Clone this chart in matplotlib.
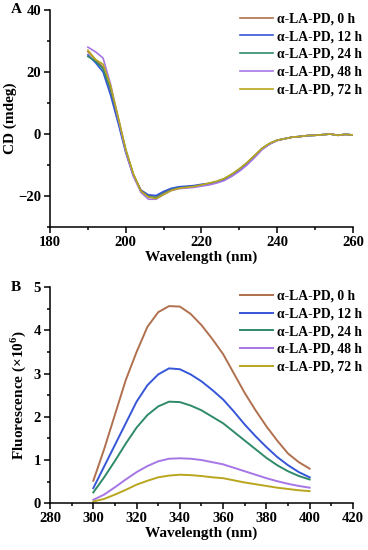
import numpy as np
import matplotlib
matplotlib.use('Agg')
import matplotlib.pyplot as plt
from matplotlib.ticker import AutoMinorLocator

plt.rcParams['font.family'] = ['Liberation Serif', 'DejaVu Serif']
plt.rcParams['font.weight'] = 'bold'
plt.rcParams['mathtext.fontset'] = 'custom'
plt.rcParams['mathtext.rm'] = 'Liberation Serif:bold'
plt.rcParams['mathtext.bf'] = 'Liberation Serif:bold'

labels = ['α-LA-PD, 0 h', 'α-LA-PD, 12 h', 'α-LA-PD, 24 h', 'α-LA-PD, 48 h', 'α-LA-PD, 72 h']
colors = ['#b0704e', '#3656d8', '#2f8a68', '#a676e6', '#b8a61e']

# CD spectra (panel A)
cd_wl = [190, 192, 194, 196, 198, 200, 202, 204, 206, 208, 210, 212, 214, 216, 218, 220,
         222, 224, 226, 228, 230, 232, 234, 236, 238, 240, 242, 244, 246, 248, 250, 252,
         254, 256, 258, 260]
cd_0h = [26.5, 24.0, 21.5, 14.0, 4.5, -5.5, -13.0, -18.0, -19.8, -20.0, -18.8, -17.8, -17.2, -17.0, -16.8, -16.4,
         -16.0, -15.5, -14.6, -13.2, -11.6, -9.6, -7.2, -4.8, -3.2, -2.0, -1.5, -1.0, -0.8, -0.5, -0.4, -0.2,
         0.0, -0.4, -0.1, -0.3]
cd_12h = [25.5, 23.0, 20.0, 12.5, 3.5, -6.0, -13.5, -18.2, -19.6, -19.8, -18.5, -17.5, -17.0, -16.8, -16.6, -16.2,
          -15.9, -15.4, -14.8, -13.5, -11.8, -9.8, -7.4, -4.9, -3.2, -2.0, -1.5, -1.0, -0.8, -0.5, -0.4, -0.2,
          0.0, -0.4, -0.1, -0.3]
cd_24h = [25.0, 23.5, 21.0, 14.5, 5.0, -5.0, -13.0, -18.5, -20.2, -20.5, -19.2, -18.0, -17.4, -17.2, -16.9, -16.5,
          -16.0, -15.4, -14.5, -13.0, -11.3, -9.3, -7.0, -4.6, -3.0, -2.0, -1.5, -1.0, -0.8, -0.5, -0.4, -0.2,
          0.0, -0.4, -0.1, -0.3]
cd_48h = [28.0, 26.5, 24.5, 16.0, 5.0, -5.5, -13.5, -18.8, -21.0, -21.0, -19.5, -18.2, -17.6, -17.4, -17.2, -16.8,
          -16.4, -15.8, -15.0, -13.6, -12.0, -10.0, -7.6, -5.0, -3.2, -2.1, -1.5, -1.0, -0.8, -0.5, -0.4, -0.2,
          0.0, -0.4, -0.1, -0.3]
cd_72h = [27.0, 24.0, 22.5, 15.5, 5.5, -5.0, -12.8, -18.4, -20.3, -20.8, -19.5, -18.2, -17.5, -17.2, -16.9, -16.4,
          -15.8, -15.2, -14.3, -12.9, -11.2, -9.2, -6.9, -4.6, -3.0, -2.0, -1.5, -1.0, -0.8, -0.5, -0.4, -0.2,
          0.0, -0.4, -0.1, -0.3]

# fluorescence spectra (panel B)
fl_wl = [300, 305, 310, 315, 320, 325, 330, 335, 340, 345, 350, 355, 360, 365, 370, 375, 380, 385, 390, 395, 400]
fl_0h = [0.52, 1.25, 2.05, 2.85, 3.5, 4.08, 4.42, 4.56, 4.55, 4.38, 4.12, 3.8, 3.45, 3.0, 2.55, 2.15, 1.78, 1.45, 1.15, 0.95, 0.8]
fl_12h = [0.35, 0.85, 1.35, 1.85, 2.35, 2.73, 2.98, 3.12, 3.1, 2.98, 2.82, 2.62, 2.4, 2.12, 1.82, 1.55, 1.3, 1.07, 0.88, 0.72, 0.6]
fl_24h = [0.25, 0.6, 0.98, 1.38, 1.75, 2.04, 2.24, 2.35, 2.34, 2.26, 2.15, 2.0, 1.85, 1.65, 1.45, 1.25, 1.05, 0.88, 0.74, 0.63, 0.55]
fl_48h = [0.08, 0.2, 0.37, 0.55, 0.72, 0.86, 0.97, 1.03, 1.04, 1.03, 1.0, 0.95, 0.9, 0.82, 0.74, 0.66, 0.58, 0.51, 0.45, 0.4, 0.36]
fl_72h = [0.04, 0.1, 0.2, 0.31, 0.43, 0.52, 0.6, 0.64, 0.66, 0.65, 0.63, 0.6, 0.58, 0.53, 0.48, 0.44, 0.4, 0.36, 0.33, 0.3, 0.28]

cd_all = [cd_0h, cd_12h, cd_24h, cd_48h, cd_72h]
fl_all = [fl_0h, fl_12h, fl_24h, fl_48h, fl_72h]

fig = plt.figure(figsize=(3.68, 5.5), dpi=100)
axA = fig.add_axes([0.136, 0.587, 0.823, 0.395])
axB = fig.add_axes([0.136, 0.085, 0.823, 0.393])

def style(ax):
	for s in ['top', 'right']:
		ax.spines[s].set_visible(False)
	ax.xaxis.set_minor_locator(AutoMinorLocator(2))
	ax.yaxis.set_minor_locator(AutoMinorLocator(2))
	ax.tick_params(which='major', direction='out', length=4, width=1.1, labelsize=10.5, pad=2.5)
	ax.tick_params(which='minor', direction='out', length=2.2, width=1.1)
	for s in ['left', 'bottom']:
		ax.spines[s].set_linewidth(1.1)

for y, c, l in zip(cd_all, colors, labels):
	axA.plot(cd_wl, y, color=c, lw=1.2, label=l)
axA.set_xlim(180, 260); axA.set_ylim(-30, 40)
axA.set_xticks([180, 200, 220, 240, 260]); axA.set_yticks([-20, 0, 20, 40])
axA.set_yticklabels(['\u221220', '0', '20', '40'])
axA.set_xlabel('Wavelength (nm)', fontsize=11, fontweight='bold', labelpad=1)
axA.set_ylabel('CD (mdeg)', fontsize=11, fontweight='bold', labelpad=1)
style(axA)
axA.legend(loc='upper right', bbox_to_anchor=(1.07, 1.045), frameon=False, fontsize=9.8,
	handlelength=2.4, handletextpad=0.3, labelspacing=0.35)

for y, c, l in zip(fl_all, colors, labels):
	axB.plot(fl_wl, y, color=c, lw=1.4, label=l)
axB.set_xlim(280, 420); axB.set_ylim(0, 5)
axB.set_xticks(range(280, 421, 20)); axB.set_yticks(range(0, 6))
axB.set_xlabel('Wavelength (nm)', fontsize=11, fontweight='bold', labelpad=1)
axB.set_ylabel(r'Fluorescence (×10$^{6}$)', fontsize=11, fontweight='bold', labelpad=4)
style(axB)
axB.legend(loc='upper right', bbox_to_anchor=(1.07, 1.045), frameon=False, fontsize=9.8,
	handlelength=2.4, handletextpad=0.3, labelspacing=0.35)

fig.text(0.03, 0.982, 'A', fontsize=11, fontweight='bold', va='center')
fig.text(0.03, 0.478, 'B', fontsize=11, fontweight='bold', va='center')

fig.savefig('out.png', dpi=100)
